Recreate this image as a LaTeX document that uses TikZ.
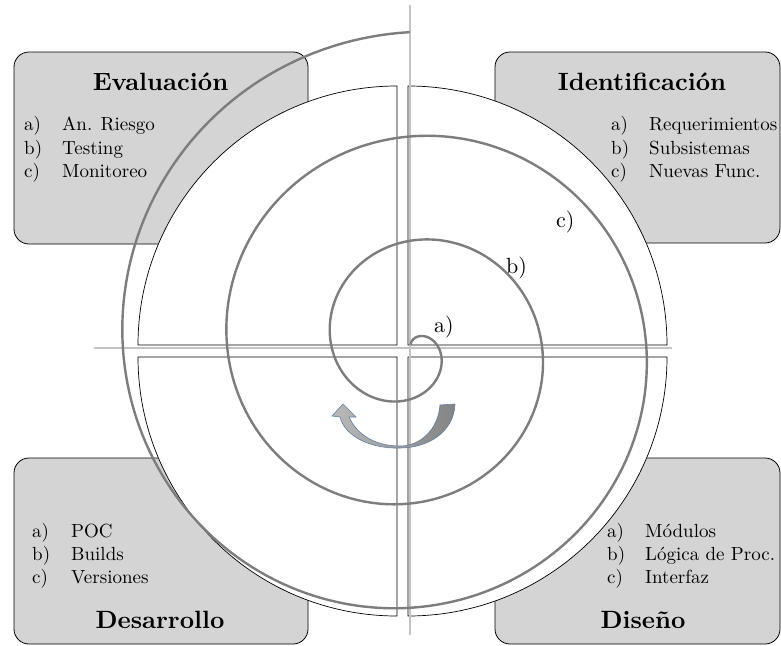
\documentclass[tikz,border=0pt]{standalone}
\usepackage{fontspec}
\setmainfont{lmroman10-regular.otf}[BoldFont=lmroman10-bold.otf]
\definecolor{boxgray}{RGB}{212,212,212}
\definecolor{axisgray}{RGB}{196,196,196}
\definecolor{spiralgray}{RGB}{125,125,125}
\definecolor{arrowblue}{RGB}{96,128,165}
\definecolor{arrowlight}{RGB}{185,185,185}
\definecolor{arrowdark}{RGB}{132,132,132}
\begin{document}
\begin{tikzpicture}[x=1pt,y=-1pt,
  phasebox/.style={draw=black, line width=0.8pt, fill=boxgray, rounded corners=15pt},
  quarter/.style={draw=black, line width=0.7pt, fill=white},
  axisline/.style={draw=axisgray, line width=1.4pt},
  spiralline/.style={draw=spiralgray, line width=2.4pt},
  phasetitle/.style={font=\fontsize{25}{30}\selectfont\bfseries, inner sep=0pt, anchor=base},
  item/.style={font=\fontsize{19}{23}\selectfont, inner sep=0pt, anchor=base west},
  steplabel/.style={font=\fontsize{22}{26}\selectfont, inner sep=0pt, anchor=base west}]
\useasboundingbox (0,0) rectangle (781,645);

% phase boxes
\path[phasebox] (14,52) rectangle (308,244);
\path[phasebox] (495,52) rectangle (780,243);
\path[phasebox] (14,458) rectangle (308,644);
\path[phasebox] (495,458) rectangle (780,644);

% quadrants
\path[quarter] (397,345) -- (138,345) arc[start angle=180, end angle=270, radius=259] -- cycle;
\path[quarter] (408,345) -- (667,345) arc[start angle=0, end angle=-90, radius=259] -- cycle;
\path[quarter] (397,357) -- (138,357) arc[start angle=180, end angle=90, radius=259] -- cycle;
\path[quarter] (408,357) -- (667,357) arc[start angle=0, end angle=90, radius=259] -- cycle;

% axes
\coordinate (vtop) at (410,5);
\coordinate (vbot) at (410,635);
\coordinate (hleft) at (94,348);
\coordinate (hright) at (672,348);
\draw[axisline] (vtop) -- (vbot);
\draw[axisline] (hleft) -- (hright);

% spiral
\draw[spiralline] plot[domain=0:18.85, samples=600, variable=\t]
  ({410.6 + (1+16.6*\t)*sin(\t r)}, {346 - (1+16.6*\t)*cos(\t r)});

% rotation arrow
\path[draw=arrowblue, line width=0.6pt, left color=arrowlight, right color=arrowdark]
  (343,404) -- (356,417) -- (349,417)
  .. controls (358,437) and (378,446) .. (400,446)
  .. controls (420,446) and (438,430) .. (440,405)
  -- (455,404)
  .. controls (454,432) and (428,448) .. (400,448)
  .. controls (372,449) and (345,437) .. (340,417)
  -- (332,416) -- cycle;

% step labels on the spiral
\node[steplabel] (la) at (434,332) {a)};
\node[steplabel] (lb) at (506,273) {b)};
\node[steplabel] (lc) at (556,227) {c)};

% Evaluación
\node[phasetitle] (ev) at (160.5,90) {Evaluación};
\node[item] (ev-a) at (24,130) {a)};  \node[item] (ev-at) at (62,130) {An. Riesgo};
\node[item] (ev-b) at (24,154) {b)};  \node[item] (ev-bt) at (62,154) {Testing};
\node[item] (ev-c) at (24,177) {c)};  \node[item] (ev-ct) at (62,177) {Monitoreo};

% Identificación
\node[phasetitle] (id) at (642,90) {Identificación};
\node[item] (id-a) at (611,130) {a)};  \node[item] (id-at) at (649,130) {Requerimientos};
\node[item] (id-b) at (611,154) {b)};  \node[item] (id-bt) at (649,154) {Subsistemas};
\node[item] (id-c) at (611,177) {c)};  \node[item] (id-ct) at (649,177) {Nuevas Func.};

% Desarrollo
\node[item] (de-a) at (32,537) {a)};  \node[item] (de-at) at (71,537) {POC};
\node[item] (de-b) at (32,560) {b)};  \node[item] (de-bt) at (71,560) {Builds};
\node[item] (de-c) at (32,583) {c)};  \node[item] (de-ct) at (71,583) {Versiones};
\node[phasetitle] (de) at (160,628) {Desarrollo};

% Diseño
\node[item] (di-a) at (607,537) {a)};  \node[item] (di-at) at (645,537) {Módulos};
\node[item] (di-b) at (607,560) {b)};  \node[item] (di-bt) at (645,560) {Lógica de Proc.};
\node[item] (di-c) at (607,583) {c)};  \node[item] (di-ct) at (645,583) {Interfaz};
\node[phasetitle] (di) at (643,628) {Diseño};
\end{tikzpicture}
\end{document}
